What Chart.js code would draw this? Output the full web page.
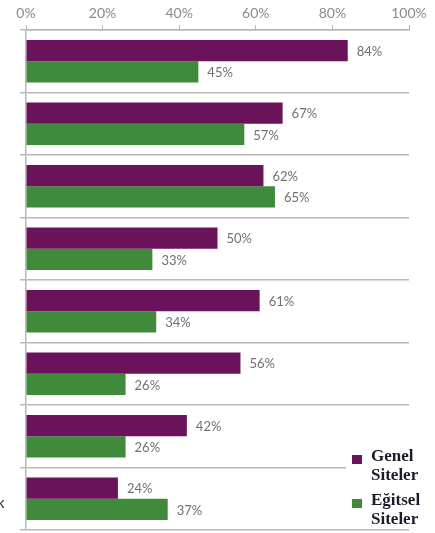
<!DOCTYPE html>
<html>
<head>
<meta charset="utf-8">
<script src="https://cdn.jsdelivr.net/npm/chart.js@4"></script>
<style>
  html, body { margin: 0; padding: 0; background: #fff; }
  #wrap { position: relative; width: 435px; height: 533px; overflow: hidden; }
  #legend {
    position: absolute; left: 346px; top: 444px; width: 89px; height: 83px;
    background: #fff; font-family: "Liberation Serif", serif; font-weight: bold;
    font-size: 17px; line-height: 19px; color: #1b1b2b;
  }
  .item { position: absolute; left: 0; padding-left: 25px; }
  .sw { position: absolute; left: 6px; top: 9px; width: 10px; height: 9px; }
  #cut { position: absolute; left: -3px; top: 494px; font: 15px "Liberation Sans", sans-serif; color: #1f2a44; }
</style>
</head>
<body>
<div id="wrap">
  <canvas id="c" width="435" height="533"></canvas>
  <div id="legend"></div>
  <div id="cut">k</div>
</div>
<script>
// categories are cropped out of the picture, kept as placeholders
const categories = ['1', '2', '3', '4', '5', '6', '7', '8'];
const seriesNames = ['Genel Siteler', 'Eğitsel Siteler'];
const genelValues = [84, 67, 62, 50, 61, 56, 42, 24];
const egitselValues = [45, 57, 65, 33, 34, 26, 26, 37];
const xTicks = [0, 20, 40, 60, 80, 100];

const purple = '#6a135a';
const green = '#408b3b';
const gridGrey = '#b8b8b8';

// value labels at the end of each bar
const valueLabels = {
    id: 'valueLabels',
    afterDatasetsDraw(chart) {
        const ctx = chart.ctx;
        ctx.save();
        ctx.font = '13px Lato';
        ctx.fillStyle = '#707070';
        ctx.textBaseline = 'middle';
        chart.data.datasets.forEach((ds, i) => {
            chart.getDatasetMeta(i).data.forEach((bar, j) => {
                ctx.fillText(ds.data[j] + '%', bar.x + 9, bar.y + 1);
            });
        });
        ctx.restore();
    }
};

new Chart(document.getElementById('c'), {
    type: 'bar',
    data: {
        labels: categories,
        datasets: [
            { label: seriesNames[0], data: genelValues, backgroundColor: purple },
            { label: seriesNames[1], data: egitselValues, backgroundColor: green }
        ]
    },
    options: {
        indexAxis: 'y',
        responsive: false,
        animation: false,
        categoryPercentage: 0.68,
        barPercentage: 1,
        layout: { padding: { left: 0, right: 26, top: 0, bottom: 3 } },
        plugins: { legend: { display: false }, tooltip: { enabled: false } },
        scales: {
            x: {
                position: 'top',
                min: 0, max: 100,
                afterBuildTicks: s => { s.ticks = xTicks.map(v => ({ value: v })); },
                afterFit: s => { s.height = 30; },
                ticks: {
                    callback: v => v + '%',
                    font: { family: 'Lato', size: 14 },
                    color: '#8a8a8a',
                    padding: 3
                },
                grid: { drawOnChartArea: false, drawTicks: true, tickLength: 5, color: gridGrey, lineWidth: 1 },
                border: { color: gridGrey, width: 1.5 }
            },
            y: {
                afterFit: s => { s.width = 26; },
                ticks: { display: false },
                grid: { offset: true, color: gridGrey, lineWidth: 1.5, tickLength: 6 },
                border: { color: gridGrey, width: 1.5 }
            }
        }
    },
    plugins: [valueLabels]
});

// legend box in the lower right corner
const legend = document.getElementById('legend');
[[purple, 'Genel', 'Siteler', 2], [green, 'Eğitsel', 'Siteler', 46]].forEach(([col, a, b, top]) => {
    const el = document.createElement('div');
    el.className = 'item';
    el.style.top = top + 'px';
    el.innerHTML = '<span class="sw" style="background:' + col + '"></span>' + a + '<br>' + b;
    legend.appendChild(el);
});
</script>
</body>
</html>
